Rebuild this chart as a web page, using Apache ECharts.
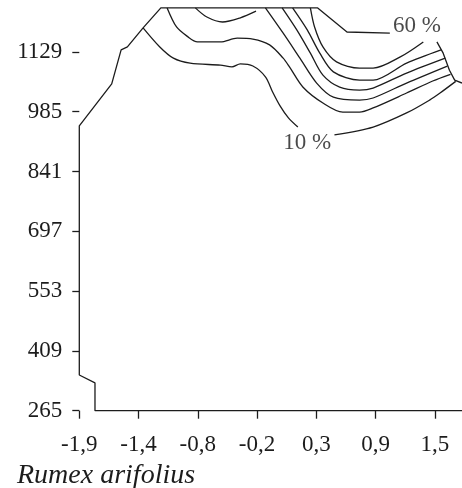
<!DOCTYPE html>
<html>
<head>
<meta charset="utf-8">
<script src="https://cdn.jsdelivr.net/npm/echarts@6/dist/echarts.min.js"></script>
<style>html,body{margin:0;padding:0;background:#fff}#c{width:462px;height:488px}</style>
</head>
<body>
<div id="c"></div>
<script>
// ---- tick labels ----
const xTickLabels = ['-1,9', '-1,4', '-0,8', '-0,2', '0,3', '0,9', '1,5'];
const xTickStep = 17 / 30;
const xTickValues = xTickLabels.map((_, i) => -1.9 + i * xTickStep);
const yTickValues = [265, 409, 553, 697, 841, 985, 1129];
const title = 'Rumex arifolius';

// ---- outline of sampled region ----
const boundaryX = [1.76, -1.75, -1.75, -1.90, -1.90, -1.59, -1.50, -1.44, -1.29, -1.12, 0.38, 0.66, 1.07];
const boundaryY = [265, 265, 332, 351, 951, 1052, 1134, 1141, 1187, 1235, 1235, 1177, 1174];
const boundaryRightX = [1.52, 1.58, 1.64, 1.69, 1.76];
const boundaryRightY = [1153, 1126, 1085, 1061, 1054];

// ---- contour lines ----
const c10aX = [-1.29, -1.13, -1.00, -0.84, -0.55, -0.44, -0.36, -0.24, -0.12, -0.05, 0.02, 0.10, 0.19];
const c10aY = [1187, 1141, 1114, 1102, 1097, 1093, 1100, 1095, 1069, 1032, 999, 970, 948];
const c10bX = [0.54, 0.91, 1.23, 1.45, 1.55, 1.70];
const c10bY = [929, 948, 982, 1013, 1030, 1058];

const c20X = [-1.06, -0.97, -0.87, -0.77, -0.55, -0.39, -0.24, -0.08, 0.05, 0.11, 0.24, 0.43, 0.62, 0.78, 0.91, 1.23, 1.48, 1.65];
const c20Y = [1235, 1189, 1167, 1153, 1153, 1162, 1160, 1146, 1114, 1093, 1044, 1006, 984, 984, 994, 1030, 1059, 1075];

const cSmallX = [-0.79, -0.68, -0.53, -0.36, -0.21];
const cSmallY = [1235, 1213, 1201, 1211, 1227];

const c30X = [-0.12, 0.05, 0.21, 0.37, 0.53, 0.78, 0.91, 1.23, 1.62];
const c30Y = [1235, 1174, 1114, 1054, 1020, 1013, 1018, 1054, 1095];

const c40X = [0.04, 0.18, 0.31, 0.43, 0.59, 0.78, 0.91, 1.23, 1.60];
const c40Y = [1235, 1182, 1126, 1073, 1044, 1037, 1042, 1078, 1114];

const c50X = [0.14, 0.28, 0.40, 0.53, 0.78, 0.91, 1.23, 1.56];
const c50Y = [1235, 1182, 1126, 1081, 1061, 1061, 1102, 1134];

const c60X = [0.31, 0.35, 0.43, 0.56, 0.78, 0.91, 1.17, 1.39];
const c60Y = [1235, 1189, 1141, 1105, 1090, 1090, 1117, 1153];

// ---- contour labels ----
const levelLabels = ['10 %', '60 %'];
const levelLabelX = [0.28, 1.33];
const levelLabelY = [910, 1191];

const INK = '#1c1c1c';
const FONT = 'Liberation Serif';

function pairs(xs, ys) { return xs.map((x, i) => [x, ys[i]]); }
function lineSeries(xs, ys, smooth) {
  return {
    type: 'line', data: pairs(xs, ys), showSymbol: false, symbol: 'none',
    smooth: smooth, clip: false, silent: true,
    lineStyle: { color: INK, width: 1.3 }
  };
}

const chart = echarts.init(document.getElementById('c'), null, { renderer: 'canvas' });
chart.setOption({
  animation: false,
  backgroundColor: '#fff',
  title: {
    text: title, left: 12, top: 457,
    textStyle: { fontFamily: FONT, fontStyle: 'italic', fontWeight: 'normal', fontSize: 28, color: INK }
  },
  grid: { left: 79.3, right: 0, top: 0, bottom: 77.3 },
  xAxis: {
    type: 'value', min: -1.9, max: 1.76,
    axisLine: { show: false, onZero: false },
    splitLine: { show: false },
    axisTick: { show: true, length: 8, customValues: xTickValues, lineStyle: { color: INK, width: 1.3 } },
    axisLabel: {
      customValues: xTickValues, margin: 23,
      fontFamily: FONT, fontSize: 23, color: INK,
      formatter: v => xTickLabels[Math.round((v + 1.9) / xTickStep)]
    }
  },
  yAxis: {
    type: 'value', min: 265, max: 1254,
    axisLine: { show: false, onZero: false },
    splitLine: { show: false },
    axisTick: { show: true, length: 7, customValues: yTickValues, lineStyle: { color: INK, width: 1.3 } },
    axisLabel: {
      customValues: yTickValues, margin: 17,
      fontFamily: FONT, fontSize: 23, color: INK,
      padding: [0, 0, 4, 0],
      formatter: v => String(v)
    }
  },
  series: [
    lineSeries(boundaryX, boundaryY, false),
    lineSeries(boundaryRightX, boundaryRightY, false),
    lineSeries(c10aX, c10aY, 0.3),
    lineSeries(c10bX, c10bY, 0.3),
    lineSeries(c20X, c20Y, 0.3),
    lineSeries(cSmallX, cSmallY, 0.3),
    lineSeries(c30X, c30Y, 0.3),
    lineSeries(c40X, c40Y, 0.3),
    lineSeries(c50X, c50Y, 0.3),
    lineSeries(c60X, c60Y, 0.3),
    {
      type: 'scatter', symbolSize: 0, silent: true, clip: false,
      data: levelLabels.map((t, i) => ({ value: [levelLabelX[i], levelLabelY[i]], name: t })),
      label: {
        show: true, position: [0, 0], align: 'center', verticalAlign: 'middle',
        formatter: p => p.name,
        fontFamily: FONT, fontSize: 23, color: INK
      }
    }
  ]
});
</script>
</body>
</html>
